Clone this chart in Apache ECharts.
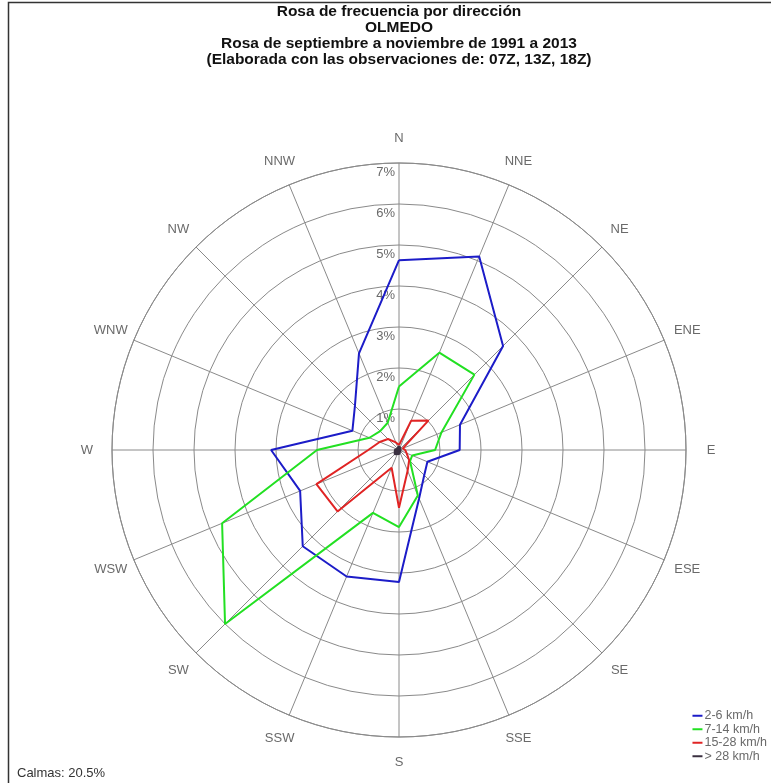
<!DOCTYPE html>
<html>
<head>
<meta charset="utf-8">
<script src="https://cdn.jsdelivr.net/npm/echarts@6/dist/echarts.min.js"></script>
<style>
  html, body { margin: 0; padding: 0; background: #ffffff; }
  #chart { width: 771px; height: 783px; }
</style>
</head>
<body>
<div id="chart"></div>
<script>
// Wind directions, clockwise from north
const directions = ['N', 'NNE', 'NE', 'ENE', 'E', 'ESE', 'SE', 'SSE',
                    'S', 'SSW', 'SW', 'WSW', 'W', 'WNW', 'NW', 'NNW'];

// Frequency (%) per direction for each speed class
const speed2to6   = [4.63, 5.11, 3.59, 1.61, 1.48, 0.75, 0.87, 1.28, 3.22, 3.34, 3.32, 2.61, 3.12, 1.23, 1.52, 2.55];
const speed7to14  = [1.55, 2.57, 2.60, 1.12, 0.88, 0.35, 0.38, 1.20, 1.88, 1.66, 6.00, 4.67, 2.00, 0.78, 0.65, 0.72];
const speed15to28 = [0.12, 0.77, 1.02, 0.10, 0.15, 0.20, 0.35, 0.55, 1.41, 0.47, 2.12, 2.18, 0.75, 0.51, 0.38, 0.20];
const speedOver28 = [0.10, 0.06, 0.05, 0.04, 0.04, 0.04, 0.05, 0.06, 0.10, 0.10, 0.15, 0.16, 0.10, 0.06, 0.05, 0.06];

const seriesNames = ['2-6 km/h', '7-14 km/h', '15-28 km/h', '> 28 km/h'];
const seriesColors = ['#1c1cc8', '#22e022', '#e02424', '#3a3040'];
const radialMax = 7;
const calmPercent = '20.5%';

const titleLines = [
  'Rosa de frecuencia por dirección',
  'OLMEDO',
  'Rosa de septiembre a noviembre de 1991 a 2013',
  '(Elaborada con las observaciones de: 07Z, 13Z, 18Z)'
];

// Layout of the polar plot
const CX = 399, CY = 450, R = 287, LABEL_R = 312;
const step = 360 / directions.length;

// Closed polygon in [radius, angle] pairs (first point repeated at 360°)
function ring(values) {
  const pts = values.map((v, i) => [v, i * step]);
  pts.push([values[0], 360]);
  return pts;
}

const chart = echarts.init(document.getElementById('chart'), null, { renderer: 'canvas' });

const gridColor = '#8a8a8a';
const labelColor = '#6a6a6a';
const font = 'Liberation Sans, Arial, sans-serif';

// Compass labels around the outer ring
const dirLabels = directions.map((d, i) => {
  const a = (90 - i * step) * Math.PI / 180;
  return {
    type: 'text',
    x: CX + LABEL_R * Math.cos(a),
    y: CY - LABEL_R * Math.sin(a),
    style: {
      text: d, fill: labelColor, font: '13px ' + font,
      align: 'center', verticalAlign: 'middle'
    },
    z: 10
  };
});

// Four-line heading centred over the rose
const titleBlock = {
  type: 'text',
  x: CX,
  y: 4,
  style: {
    text: titleLines.join('\n'),
    fill: '#111111',
    font: 'bold 15.5px Liberation Sans Narrow, Liberation Sans, Arial, sans-serif',
    lineHeight: 16,
    align: 'center',
    verticalAlign: 'top'
  },
  z: 10
};

const seriesData = [speed2to6, speed7to14, speed15to28, speedOver28];

const option = {
  animation: false,
  backgroundColor: '#ffffff',
  polar: {
    center: [CX, CY],
    radius: R
  },
  angleAxis: {
    type: 'value',
    min: 0,
    max: 360,
    interval: step,
    startAngle: 90,
    clockwise: true,
    axisLine: { show: true, lineStyle: { color: gridColor, width: 1 } },
    axisTick: { show: false },
    axisLabel: { show: false },
    splitLine: { show: true, lineStyle: { color: gridColor, width: 1 } }
  },
  radiusAxis: {
    type: 'value',
    min: 0,
    max: radialMax,
    interval: 1,
    axisLine: { show: false },
    axisTick: { show: false },
    axisLabel: {
      formatter: v => (v ? v + '%' : ''),
      color: labelColor,
      fontFamily: font,
      fontSize: 13,
      margin: 4,
      align: 'right',
      verticalAlign: 'top',
      padding: [3, 0, 0, 0]
    },
    splitLine: { show: true, lineStyle: { color: gridColor, width: 1 } },
    z: 5
  },
  legend: {
    orient: 'vertical',
    right: 4,
    bottom: 20,
    icon: 'rect',
    itemWidth: 10,
    itemHeight: 2,
    itemGap: 0,
    padding: 0,
    textStyle: {
      color: labelColor, fontFamily: font, fontSize: 12.5, lineHeight: 13.5,
      padding: [0, 0, 0, -3]
    },
    data: seriesNames
  },
  series: seriesData.map((vals, k) => ({
    name: seriesNames[k],
    type: 'line',
    coordinateSystem: 'polar',
    data: ring(vals),
    symbol: 'none',
    smooth: false,
    color: seriesColors[k],
    lineStyle: { color: seriesColors[k], width: 2 },
    areaStyle: k === 3 ? { color: seriesColors[k], opacity: 1 } : undefined,
    z: 20 + k
  })),
  graphic: [
    {
      type: 'rect',
      shape: { x: 8.5, y: 2.5, width: 900, height: 900 },
      style: { fill: 'none', stroke: '#333333', lineWidth: 1.5 },
      silent: true
    },
    titleBlock,
    {
      type: 'text',
      left: 17,
      top: 767,
      style: { text: 'Calmas: ' + calmPercent, fill: '#333333', font: '13px ' + font }
    }
  ].concat(dirLabels)
};

chart.setOption(option);
</script>
</body>
</html>
